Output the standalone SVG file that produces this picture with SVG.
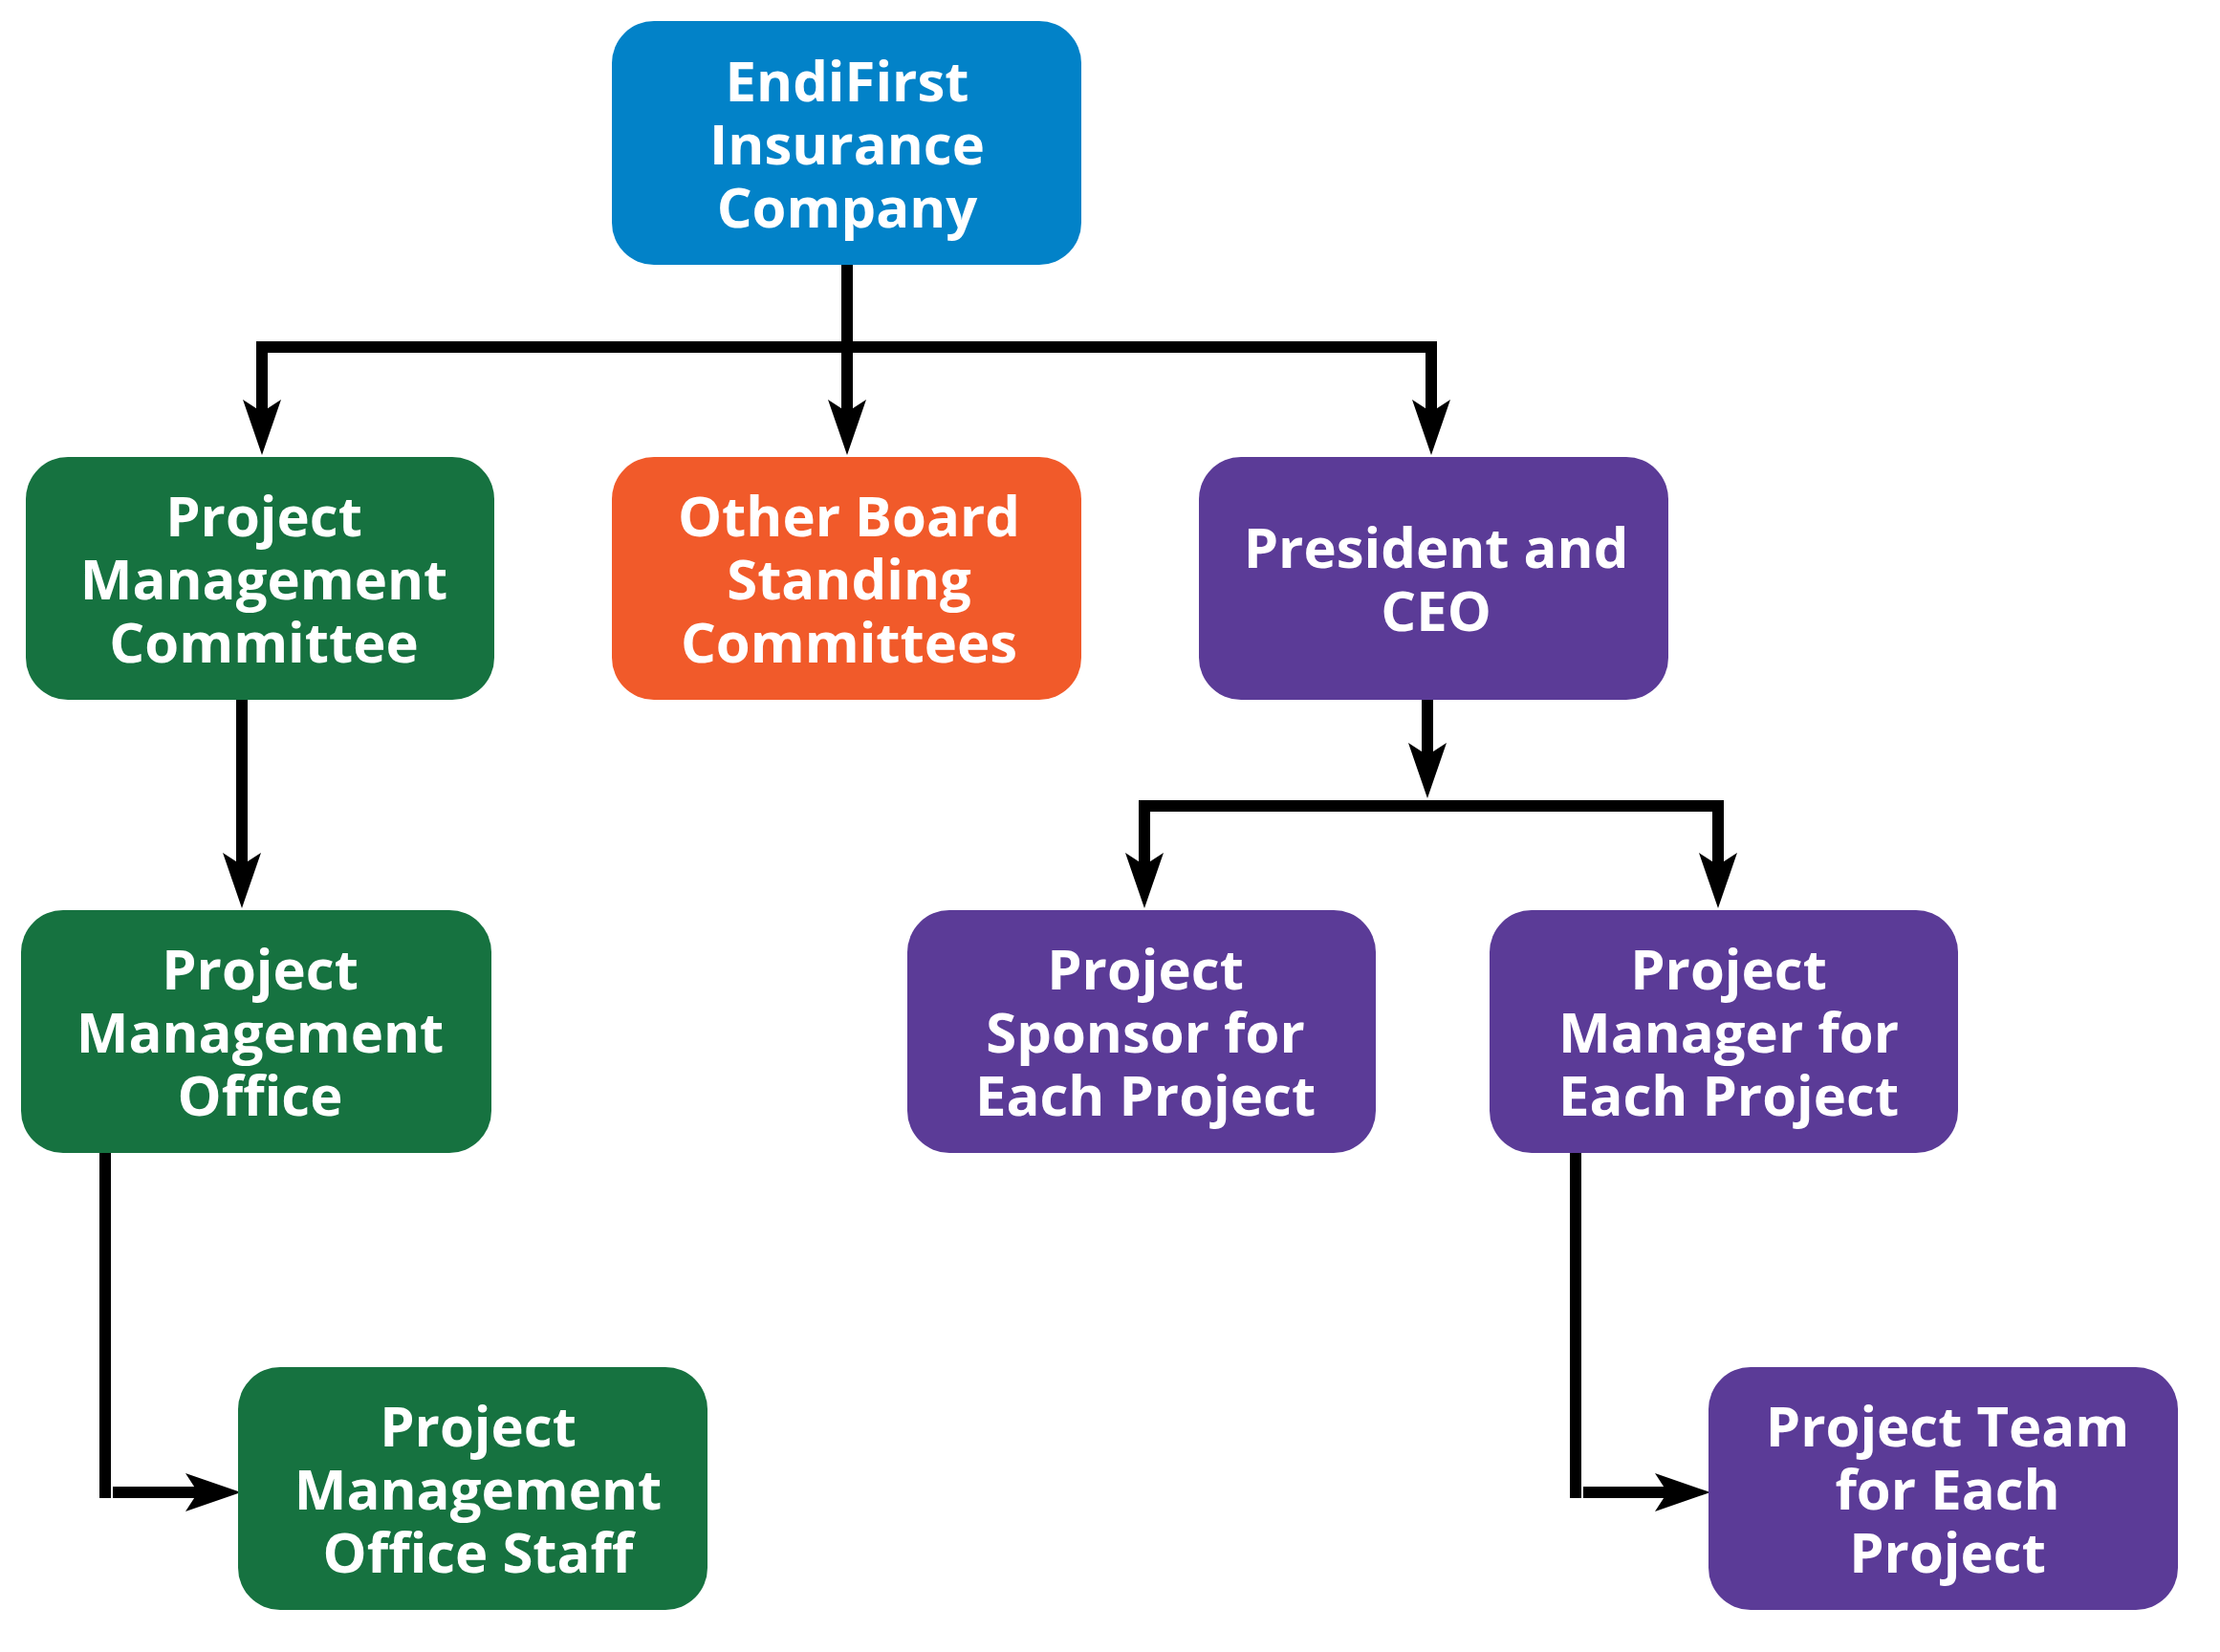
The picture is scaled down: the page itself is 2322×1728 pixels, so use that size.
<svg xmlns="http://www.w3.org/2000/svg" width="2322" height="1728" viewBox="0 0 2322 1728">
<style>
.n{stroke:none}
.blue{fill:#0282C8}.green{fill:#167240}.orange{fill:#F15A2A}.purple{fill:#5B3B97}
.t{fill:#fff;font-family:"Open Sans","Liberation Sans",sans-serif;font-weight:700;font-size:58px;text-anchor:middle}
.c{fill:none;stroke:#000;stroke-width:12;stroke-linejoin:miter}
</style>
<defs>
<marker id="ah" markerUnits="userSpaceOnUse" markerWidth="60" markerHeight="42" viewBox="0 0 60 42" refX="18" refY="21" orient="auto">
<path d="M0,1 L58,21 L0,41 L13,21 Z" fill="#000"/>
</marker>
</defs>
<rect width="2322" height="1728" fill="#fff"/>
<g id="connectors">
<path class="c" d="M886,277 V436" marker-end="url(#ah)"/>
<path class="c" d="M886,363 H274 V436" marker-end="url(#ah)"/>
<path class="c" d="M886,363 H1497 V436" marker-end="url(#ah)"/>
<path class="c" d="M253,732 V910" marker-end="url(#ah)"/>
<path class="c" d="M1493,732 V795" marker-end="url(#ah)"/>
<path class="c" d="M1493,843 H1197 V910" marker-end="url(#ah)"/>
<path class="c" d="M1493,843 H1797 V910" marker-end="url(#ah)"/>
<path class="c" d="M110,1206 V1567"/>
<path class="c" d="M118,1561 H212" marker-end="url(#ah)"/>
<path class="c" d="M1648,1206 V1567"/>
<path class="c" d="M1656,1561 H1749" marker-end="url(#ah)"/>
</g>
<g id="n-endifirst">
<rect class="blue" x="640" y="22" width="491" height="255" rx="44"/>
<text class="t" x="886" y="106">EndiFirst</text>
<text class="t" x="886" y="172">Insurance</text>
<text class="t" x="886" y="238">Company</text>
</g>
<g id="n-pmc">
<rect class="green" x="27" y="478" width="490" height="254" rx="44"/>
<text class="t" x="276" y="561">Project</text>
<text class="t" x="276" y="627">Management</text>
<text class="t" x="276" y="693">Committee</text>
</g>
<g id="n-other">
<rect class="orange" x="640" y="478" width="491" height="254" rx="44"/>
<text class="t" x="888" y="561">Other Board</text>
<text class="t" x="888" y="627">Standing</text>
<text class="t" x="888" y="693">Committees</text>
</g>
<g id="n-president">
<rect class="purple" x="1254" y="478" width="491" height="254" rx="44"/>
<text class="t" x="1502" y="594">President and</text>
<text class="t" x="1502" y="660">CEO</text>
</g>
<g id="n-pmo">
<rect class="green" x="22" y="952" width="492" height="254" rx="44"/>
<text class="t" x="272" y="1035">Project</text>
<text class="t" x="272" y="1101">Management</text>
<text class="t" x="272" y="1167">Office</text>
</g>
<g id="n-sponsor">
<rect class="purple" x="949" y="952" width="490" height="254" rx="44"/>
<text class="t" x="1198" y="1035">Project</text>
<text class="t" x="1198" y="1101">Sponsor for</text>
<text class="t" x="1198" y="1167">Each Project</text>
</g>
<g id="n-manager">
<rect class="purple" x="1558" y="952" width="490" height="254" rx="44"/>
<text class="t" x="1808" y="1035">Project</text>
<text class="t" x="1808" y="1101">Manager for</text>
<text class="t" x="1808" y="1167">Each Project</text>
</g>
<g id="n-pmostaff">
<rect class="green" x="249" y="1430" width="491" height="254" rx="44"/>
<text class="t" x="500" y="1513">Project</text>
<text class="t" x="500" y="1579">Management</text>
<text class="t" x="500" y="1645">Office Staff</text>
</g>
<g id="n-team">
<rect class="purple" x="1787" y="1430" width="491" height="254" rx="44"/>
<text class="t" x="2037" y="1513">Project Team</text>
<text class="t" x="2037" y="1579">for Each</text>
<text class="t" x="2037" y="1645">Project</text>
</g>
</svg>
